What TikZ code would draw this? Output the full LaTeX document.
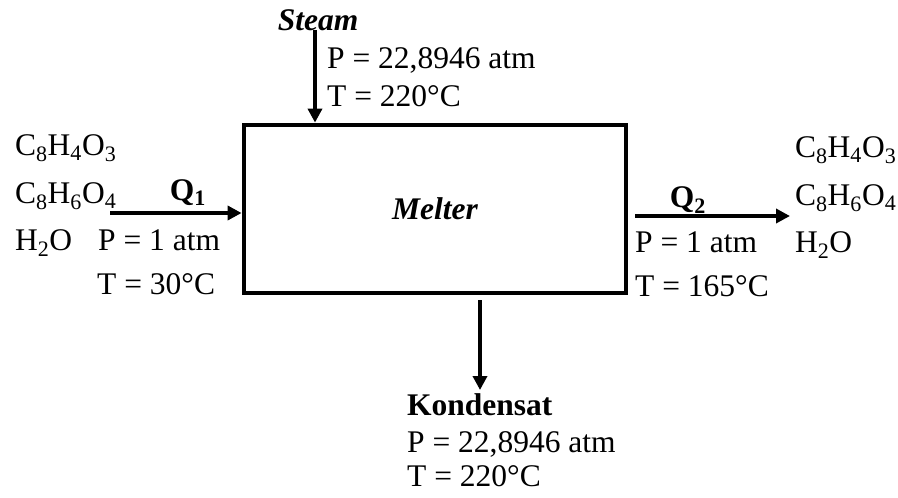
\documentclass[tikz,border=0pt]{standalone}
\usepackage{fontspec}
\setmainfont{Liberation Serif}
\usepackage{tikz}
\usetikzlibrary{arrows.meta, positioning, calc}
\tikzset{
  unitbox/.style={rectangle, draw=black, line width=4.8pt,
    minimum width=382pt, minimum height=168pt, inner sep=0pt,
    font=\fontsize{31.5}{38}\selectfont\bfseries\itshape},
  lbl/.style={font=\fontsize{31.5}{38}\selectfont, inner sep=0pt, anchor=base west},
  boldlbl/.style={lbl, font=\fontsize{31.5}{38}\selectfont\bfseries},
  flow/.style={-{Triangle[length=14pt,width=14pt]}, line width=3.8pt, color=black}
}
\begin{document}
\begin{tikzpicture}[x=1pt, y=-1pt]
  \useasboundingbox (0,0) rectangle (898,498);

  % Melter
  \node[unitbox] (melter) at (435,209) {Melter};

  % Steam in
  \node[boldlbl, anchor=base, font=\fontsize{31.5}{38}\selectfont\bfseries\itshape] (steam) at (318,30) {Steam};
  \node[lbl] (steamP) at (327,68) {P = 22,8946 atm};
  \node[lbl] (steamT) at (327,106) {T = 220°C};
  \coordinate (steamtop) at (315,30);
  \draw[flow] (steamtop) -- (steamtop |- melter.north);

  % Feed Q1
  \node[lbl] (inA) at (15,155) {C\textsubscript{8}H\textsubscript{4}O\textsubscript{3}};
  \node[lbl] (inB) at (15,203) {C\textsubscript{8}H\textsubscript{6}O\textsubscript{4}};
  \node[lbl] (inC) at (15,250) {H\textsubscript{2}O};
  \node[lbl] (inP) at (98,250) {P = 1 atm};
  \node[lbl] (inT) at (97,294) {T = 30°C};
  \node[boldlbl, anchor=base] (q1) at (188,200) {Q\textsubscript{1}};
  \coordinate (q1in) at (110,213);
  \draw[flow] (q1in) -- (q1in -| melter.west);

  % Product Q2
  \node[lbl] (outA) at (795,157) {C\textsubscript{8}H\textsubscript{4}O\textsubscript{3}};
  \node[lbl] (outB) at (795,205) {C\textsubscript{8}H\textsubscript{6}O\textsubscript{4}};
  \node[lbl] (outC) at (795,252) {H\textsubscript{2}O};
  \node[lbl] (outP) at (635,252) {P = 1 atm};
  \node[lbl] (outT) at (635,296) {T = 165°C};
  \node[boldlbl, anchor=base] (q2) at (688,207) {Q\textsubscript{2}};
  \coordinate (q2start) at (635,216);
  \coordinate (q2out) at (790,216);
  \draw[flow] (q2start) -- (q2out);

  % Kondensat out
  \coordinate (kondtop) at (480,300);
  \coordinate (kondend) at (480,390);
  \draw[flow] (kondtop) -- (kondend);
  \node[boldlbl] (kond) at (407,415) {Kondensat};
  \node[lbl] (kondP) at (407,452) {P = 22,8946 atm};
  \node[lbl] (kondT) at (407,486) {T = 220°C};
\end{tikzpicture}
\end{document}
